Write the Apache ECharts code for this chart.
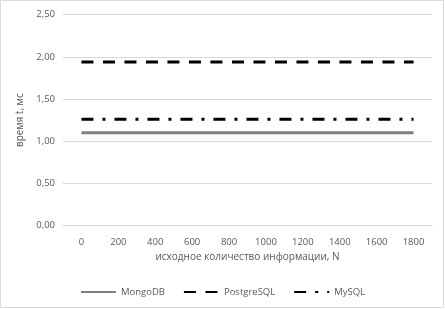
<!DOCTYPE html>
<html><head><meta charset="utf-8">
<script src="https://cdn.jsdelivr.net/npm/echarts@6/dist/echarts.min.js"></script>
<style>html,body{margin:0;padding:0;background:#fff}#c{width:445px;height:309px}</style>
</head><body><div id="c"></div>
<script>
const categories = ['0','200','400','600','800','1000','1200','1400','1600','1800'];
const mongo = [1.10,1.10,1.10,1.10,1.10,1.10,1.10,1.10,1.10,1.10];
const postgres = [1.94,1.94,1.94,1.94,1.94,1.94,1.94,1.94,1.94,1.94];
const mysql = [1.26,1.26,1.26,1.26,1.26,1.26,1.26,1.26,1.26,1.26];
const yTicks = [0, 0.5, 1, 1.5, 2, 2.5];

const font = '"Open Sans", sans-serif';
const txt = '#595959';
const chart = echarts.init(document.getElementById('c'), null, {renderer:'canvas'});
chart.setOption({
  animation: false,
  backgroundColor: '#fff',
  graphic: [{type:'rect', shape:{x:0.5,y:0.5,width:443,height:307}, style:{fill:'none', stroke:'#d9d9d9', lineWidth:1}, silent:true}],
  grid: {left:63, right:13, top:14.7, bottom:83.3},
  xAxis: {
    type:'category', data: categories, boundaryGap:true,
    name:'исходное количество информации, N', nameLocation:'middle', nameGap:24,
    nameTextStyle:{color:txt, fontFamily:font, fontSize:10},
    axisLine:{show:true, lineStyle:{color:'#d9d9d9'}}, axisTick:{show:false},
    axisLabel:{color:txt, fontFamily:font, fontSize:9.5, margin:12}
  },
  yAxis: {
    type:'value', min:yTicks[0], max:yTicks[yTicks.length-1], interval:0.5,
    name:'время t, мс', nameLocation:'middle', nameGap:33,
    nameTextStyle:{color:txt, fontFamily:font, fontSize:10},
    axisLine:{show:false}, axisTick:{show:false},
    axisLabel:{color:txt, fontFamily:font, fontSize:9.5, margin:8, formatter:v=>v.toFixed(2).replace('.',',')},
    splitLine:{lineStyle:{color:'#d9d9d9', width:1}}
  },
  legend: {
    bottom: 7, left:'center', itemWidth:35, itemHeight:8, itemGap:18,
    itemStyle:{opacity:0},
    textStyle:{color:txt, fontFamily:font, fontSize:9.5},
    data:['MongoDB','PostgreSQL','MySQL']
  },
  series: [
    {name:'MongoDB', type:'line', data:mongo, symbol:'none', color:'#808080', lineStyle:{color:'#808080', width:3}},
    {name:'PostgreSQL', type:'line', data:postgres, symbol:'none', color:'#000', lineStyle:{color:'#000', width:3, type:[12,9.5]}},
    {name:'MySQL', type:'line', data:mysql, symbol:'none', color:'#000', lineStyle:{color:'#000', width:3, type:[12,9,3,9]}}
  ]
});
</script></body></html>
